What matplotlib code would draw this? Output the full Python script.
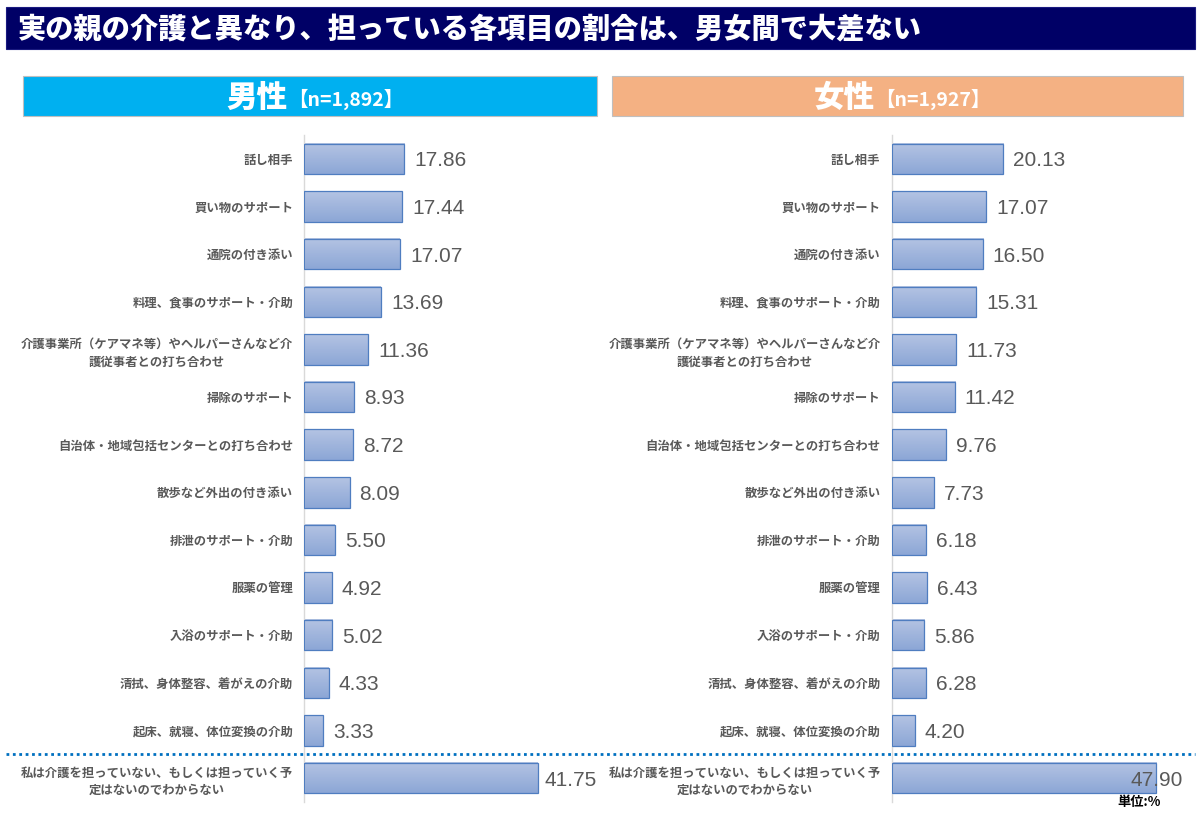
import matplotlib
matplotlib.use("Agg")
import matplotlib.pyplot as plt
import numpy as np
from matplotlib.patches import Rectangle
from matplotlib.lines import Line2D
from matplotlib.colors import LinearSegmentedColormap

plt.rcParams['font.family'] = ['Noto Sans CJK JP', 'DejaVu Sans']

title = "実の親の介護と異なり、担っている各項目の割合は、男女間で大差ない"
categories = [
    "話し相手",
    "買い物のサポート",
    "通院の付き添い",
    "料理、食事のサポート・介助",
    "介護事業所（ケアマネ等）やヘルパーさんなど介\n護従事者との打ち合わせ",
    "掃除のサポート",
    "自治体・地域包括センターとの打ち合わせ",
    "散歩など外出の付き添い",
    "排泄のサポート・介助",
    "服薬の管理",
    "入浴のサポート・介助",
    "清拭、身体整容、着がえの介助",
    "起床、就寝、体位変換の介助",
    "私は介護を担っていない、もしくは担っていく予\n定はないのでわからない",
]
male_values = [17.86, 17.44, 17.07, 13.69, 11.36, 8.93, 8.72, 8.09, 5.50, 4.92, 5.02, 4.33, 3.33, 41.75]
female_values = [20.13, 17.07, 16.50, 15.31, 11.73, 11.42, 9.76, 7.73, 6.18, 6.43, 5.86, 6.28, 4.20, 47.90]
male_header = ("男性", "【n=1,892】")
female_header = ("女性", "【n=1,927】")
unit_label = "単位:%"

W, H = 1200, 821
fig = plt.figure(figsize=(W / 100, H / 100), dpi=100)
fig.patch.set_facecolor("white")


def fx(x):
    return x / W


def fy(y):
    return 1 - y / H


GRAY = "#595959"

# title bar
fig.patches.append(Rectangle((fx(6), fy(49)), fx(1195) - fx(6), fy(7) - fy(49),
                             transform=fig.transFigure, facecolor="#000066",
                             edgecolor="#1a1a80", lw=0.8, zorder=0))
fig.text(fx(18), fy(28.5), title, color="white", fontsize=20.3, fontweight="heavy",
         ha="left", va="center")

# headers
for (x0, x1, col, hdr) in [(23, 597, "#00B0F0", male_header), (612, 1183, "#F4B183", female_header)]:
    fig.patches.append(Rectangle((fx(x0), fy(116)), fx(x1) - fx(x0), fy(76) - fy(116),
                                 transform=fig.transFigure, facecolor=col,
                                 edgecolor="#BFBFBF", lw=0.8, zorder=0))
    split = (x0 + x1) / 2 - 23
    fig.text(fx(split), fy(97), hdr[0], color="white", fontsize=22, fontweight="heavy",
             ha="right", va="center")
    fig.text(fx(split + 1), fy(99), hdr[1], color="white", fontsize=14, fontweight="bold",
             ha="left", va="center", family=['Noto Sans CJK JP', 'DejaVu Sans'])

# axes
ax_specs = [
    (304.3, 597, 5.6, male_values),
    (891.7, 1183, 5.52, female_values),
]
top_px, bot_px = 135, 802
cmap = LinearSegmentedColormap.from_list("g", ["#B4C4E3", "#8CA6D6"])
axes = []
for (x0, x1, scale, vals) in ax_specs:
    ax = fig.add_axes([fx(x0), fy(bot_px), fx(x1) - fx(x0), fy(top_px) - fy(bot_px)])
    ax.set_facecolor("none")
    y = np.arange(len(categories))
    bars = ax.barh(y, vals, height=0.64, facecolor="none", edgecolor="#4F7DC0",
                   linewidth=0.9, zorder=3)
    grad = np.linspace(0, 1, 64).reshape(-1, 1)
    for b in bars:
        bx, by, bw, bh = b.get_x(), b.get_y(), b.get_width(), b.get_height()
        ax.imshow(grad, extent=(bx, bx + bw, by + bh, by), origin="upper",
                  aspect="auto", cmap=cmap, zorder=2, interpolation="bilinear")
    xmax = (x1 - x0) / scale
    ax.set_xlim(0, xmax)
    ax.set_ylim(len(categories) - 0.5, -0.5)
    for s in ["top", "right", "bottom"]:
        ax.spines[s].set_visible(False)
    ax.spines["left"].set_color("#D9D9D9")
    ax.spines["left"].set_linewidth(1)
    ax.set_xticks([])
    ax.set_yticks(y)
    ax.set_yticklabels(categories, fontsize=8.9, fontweight="bold", color=GRAY,
                       linespacing=1.45)
    for t in ax.get_yticklabels():
        t.set_multialignment("center")
    ax.tick_params(axis="y", length=0, pad=8)
    labels = []
    for yi, v in zip(y, vals):
        t = ax.annotate(f"{v:.2f}", xy=(v, yi), xytext=(7.2, -1.4), textcoords="offset points",
                        ha="left", va="center", fontsize=15, color=GRAY,
                        family=["Liberation Sans", "DejaVu Sans"], zorder=5)
        labels.append((t, v, yi))
    axes.append((ax, labels, xmax))

fig.canvas.draw()
renderer = fig.canvas.get_renderer()
for ax, labels, xmax in axes:
    axbb = ax.get_window_extent(renderer)
    for t, v, yi in labels:
        bb = t.get_window_extent(renderer)
        if bb.x1 > axbb.x1:
            t.xy = (xmax, yi)
            t.set_position((0, -1.4))
            t.set_ha("right")

# dotted separator
fig.lines.append(Line2D([fx(6), fx(1195)], [fy(753.5), fy(753.5)], transform=fig.transFigure,
                        color="#0070C0", lw=2.0, linestyle=(0, (1, 1.3)),
                        dash_capstyle="butt", zorder=6))

fig.text(fx(1161), fy(801.5), unit_label, color="black", fontsize=9.5, fontweight="bold",
         ha="right", va="center")

fig.savefig("out.png", dpi=100, facecolor="white")
